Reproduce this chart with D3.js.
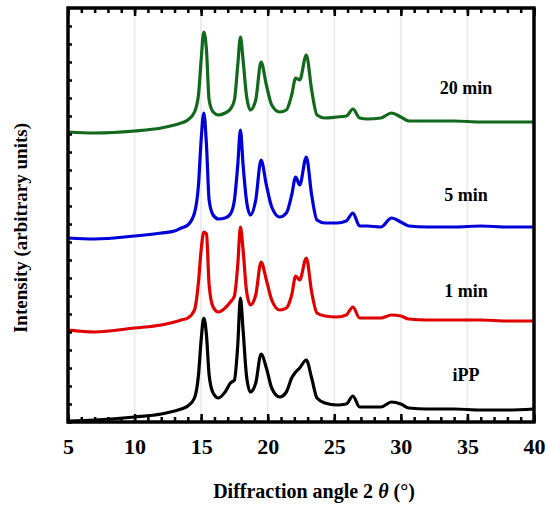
<!DOCTYPE html>
<html>
<head>
<meta charset="utf-8">
<script src="https://cdn.jsdelivr.net/npm/d3@7"></script>
<style>
  body { margin: 0; background: #fff; }
  text { font-family: "Liberation Serif", "Times New Roman", serif; font-weight: bold; }
</style>
</head>
<body>
<div id="chart"></div>
<script>
// 2 theta values (degrees) shared by all patterns
var angles = [5, 7, 10, 12, 13, 13.5, 14, 14.5, 14.8, 15.0, 15.2, 15.4, 15.6, 15.9, 16.3, 16.8,
  17.2, 17.5, 17.75, 17.95, 18.15, 18.4, 18.7, 19.1, 19.5, 19.9, 20.3, 20.9, 21.4, 21.8, 22.1,
  22.4, 22.9, 23.3, 23.7, 24.3, 25.2, 25.9, 26.4, 26.9, 27.5, 28.5, 29.3, 30.0, 30.6, 32, 34,
  36, 38, 40];

// intensities, already stacked (arbitrary units)
var ippValues = [1, 2, 5, 8, 11, 13, 16, 24, 47, 82, 104, 87, 47, 29, 24, 30, 39, 42, 77, 124,
  92, 47, 30, 39, 68, 54, 34, 25, 30, 44, 50, 54, 62, 44, 24, 19, 17, 18, 26, 15, 15, 15, 20, 18,
  14, 13, 13, 12, 12, 13];
var min1Values = [92, 90, 94, 97, 100, 102, 104, 112, 140, 172, 190, 188, 137, 115, 110, 114,
  120, 126, 157, 195, 172, 132, 117, 127, 160, 142, 122, 112, 114, 127, 146, 142, 164, 130, 109,
  106, 105, 107, 115, 104, 104, 104, 107, 106, 103, 102, 102, 102, 101, 101];
var min5Values = [184, 183, 186, 189, 191, 194, 197, 209, 237, 282, 309, 277, 222, 207, 203,
  204, 208, 222, 257, 292, 257, 222, 207, 222, 262, 237, 215, 205, 209, 227, 245, 237, 265, 227,
  202, 199, 199, 201, 209, 196, 196, 195, 204, 200, 196, 195, 195, 196, 195, 195];
var min20Values = [290, 289, 291, 294, 297, 299, 302, 310, 327, 362, 390, 372, 322, 310, 307,
  309, 313, 322, 357, 385, 362, 327, 312, 322, 360, 337, 317, 310, 312, 327, 344, 342, 367, 332,
  307, 304, 305, 306, 313, 304, 303, 304, 309, 305, 301, 301, 301, 300, 300, 300];

var seriesNames = ['iPP', '1 min', '5 min', '20 min'];
var xTickValues = [5, 10, 15, 20, 25, 30, 35, 40];

var pic_width = 547,
    pic_height = 507;

var margin = { top: 8, right: 13, bottom: 85, left: 68 };
var width = pic_width - margin.left - margin.right,
    height = pic_height - margin.top - margin.bottom;

var colors = ['#000000', '#e00000', '#0000d8', '#12691c'];

var series = [ippValues, min1Values, min5Values, min20Values].map(function(vals, i) {
  return { name: seriesNames[i], color: colors[i],
    points: vals.map(function(v, j) { return [angles[j], v]; }) };
});

var x = d3.scaleLinear().domain([5, 40]).range([0, width]);
var y = d3.scaleLinear().domain([0, 414]).range([height, 0]);

var svg = d3.select('#chart').append('svg')
  .attr('width', pic_width)
  .attr('height', pic_height)
  .style('background', '#fff');

var g = svg.append('g')
  .attr('transform', 'translate(' + margin.left + ',' + margin.top + ')');

// light vertical grid lines
g.selectAll('.grid').data(xTickValues.slice(1, -1)).enter().append('line')
  .attr('x1', function(d) { return x(d); })
  .attr('x2', function(d) { return x(d); })
  .attr('y1', 0).attr('y2', height)
  .attr('stroke', '#ececec').attr('stroke-width', 2);

// the patterns
var line = d3.line()
  .x(function(d) { return x(d[0]); })
  .y(function(d) { return y(d[1]); })
  .curve(d3.curveMonotoneX);

g.selectAll('.pattern').data(series).enter().append('path')
  .attr('d', function(d) { return line(d.points); })
  .attr('fill', 'none')
  .attr('stroke', function(d) { return d.color; })
  .attr('stroke-width', 3.2)
  .attr('stroke-linejoin', 'round');

// inward ticks: minor every degree, major every 5 degrees, on bottom and top
var minor = d3.range(5, 41, 1);
var bottomAxis = d3.axisBottom(x).tickValues(minor).tickSizeInner(-5).tickSizeOuter(0).tickFormat('');
var topAxis = d3.axisTop(x).tickValues(minor).tickSizeInner(-5).tickSizeOuter(0).tickFormat('');

g.append('g').attr('transform', 'translate(0,' + height + ')').call(bottomAxis);
g.append('g').call(topAxis);

var majorBottom = d3.axisBottom(x).tickValues(xTickValues).tickSizeInner(-8).tickSizeOuter(0)
  .tickPadding(16).tickFormat(d3.format('d'));
var xAx = g.append('g').attr('transform', 'translate(0,' + height + ')').call(majorBottom);
xAx.selectAll('text').style('font-size', '22px').attr('fill', '#000');

g.append('g').call(d3.axisTop(x).tickValues(xTickValues).tickSizeInner(-8).tickSizeOuter(0).tickFormat(''));

// small ticks on the left axis
g.append('g').call(d3.axisLeft(y).tickValues(d3.range(0, 414, 18)).tickSizeInner(-4).tickSizeOuter(0).tickFormat(''));

g.selectAll('.tick line').attr('stroke', '#000').attr('stroke-width', 2.5);
g.selectAll('.domain').remove();

// frame
g.append('rect')
  .attr('x', 0).attr('y', 0).attr('width', width).attr('height', height)
  .attr('fill', 'none').attr('stroke', '#000').attr('stroke-width', 3.5);

// series labels
var labelSpots = [[34.9, 45], [34.9, 129], [34.9, 225], [34.9, 332]];
g.selectAll('.lab').data(series).enter().append('text')
  .attr('x', function(d, i) { return x(labelSpots[i][0]); })
  .attr('y', function(d, i) { return y(labelSpots[i][1]); })
  .attr('text-anchor', 'middle')
  .attr('dominant-baseline', 'middle')
  .style('font-size', '18px')
  .text(function(d) { return d.name; });

// axis titles
svg.append('text')
  .attr('x', 314).attr('y', 498)
  .attr('text-anchor', 'middle')
  .style('font-size', '20px')
  .html('Diffraction angle 2 <tspan font-style="italic">θ</tspan> (°)');

svg.append('text')
  .attr('transform', 'translate(27,' + 228 + ') rotate(-90)')
  .attr('text-anchor', 'middle')
  .style('font-size', '19px')
  .text('Intensity (arbitrary units)');
</script>
</body>
</html>
